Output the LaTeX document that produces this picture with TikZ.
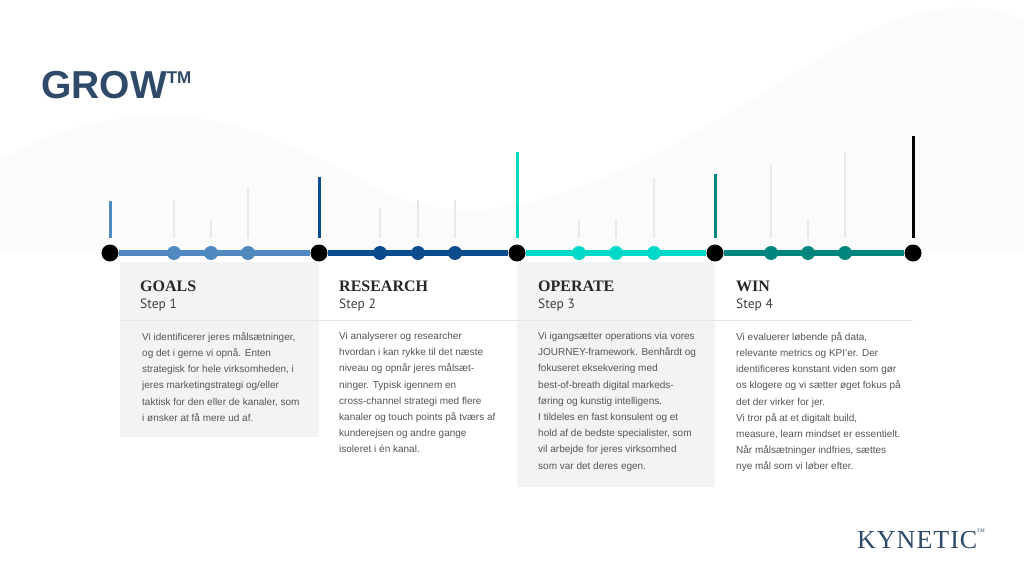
\documentclass[tikz,border=0pt]{standalone}
\usepackage{fontspec}
\setmainfont{Liberation Sans}
\newfontfamily\hfont{Liberation Serif}
\newfontfamily\sfont{PT Sans}
\definecolor{cA}{HTML}{5088C0}
\definecolor{cB}{HTML}{0D4C8C}
\definecolor{cC}{HTML}{00D8C8}
\definecolor{cD}{HTML}{00857F}
\definecolor{navy}{HTML}{2E4A68}
\definecolor{tick}{HTML}{E8E8EC}
\definecolor{boxg}{HTML}{F3F3F3}
\definecolor{txt}{HTML}{555555}
\begin{document}
\begin{tikzpicture}[x=1pt,y=-1pt,
  bigdot/.style={circle,fill=black,minimum size=17pt,inner sep=0pt},
  smalldot/.style={circle,minimum size=14pt,inner sep=0pt},
  seg/.style={line width=5.5pt},
  lt/.style={tick,line width=2.2pt},
  head/.style={anchor=base west,inner sep=0pt,font=\hfont\bfseries\fontsize{16}{18}\selectfont,text=black!85},
  stp/.style={anchor=base west,inner sep=0pt,font=\sfont\fontsize{13.5}{15}\selectfont,text=black!75},
  body/.style={anchor=north west,inner sep=0pt,align=left,text=txt,font=\fontsize{10}{16.2}\selectfont}]
\useasboundingbox[fill=white] (0,0) rectangle (1024,577);
% background waves
\fill[black!1.5] (0,160) .. controls (150,80) and (250,120) .. (380,190) .. controls (520,260) and (700,130) .. (850,40) .. controls (950,-10) and (1000,10) .. (1024,20) -- (1024,250) -- (0,250) -- cycle;
% boxes
\fill[boxg] (120,262) rectangle (319,437);
\fill[boxg] (517,262) rectangle (715,487);
\draw[black!10,line width=0.6pt] (120,320) -- (913,320);
% title
\node[anchor=base west,inner sep=0pt,text=navy,font=\bfseries\fontsize{39}{40}\selectfont] (title) at (41,99) {GROW\raisebox{0.75ex}{\fontsize{17}{17}\selectfont TM}};
\node[anchor=base west,inner sep=0pt,text=navy,font=\hfont\fontsize{26}{28}\selectfont] (logo) at (857,548) {K\kern1pt Y\kern1pt N\kern1pt E\kern1pt T\kern1pt I\kern1pt C\raisebox{1.3ex}{\fontsize{5}{5}\selectfont TM}};
% light ticks
\foreach \x/\t in {174/200,211/220,248/188,380/208,418/200,455/200,579/220,616/220,654/178,771/165,808/220,845/152}
  \draw[lt] (\x,238) -- (\x,\t);
% big ticks
\draw[cA,line width=3pt] (110,238) -- (110,201);
\draw[cB,line width=3pt] (319,238) -- (319,177);
\draw[cC,line width=3pt] (517,238) -- (517,152);
\draw[cD,line width=3pt] (715,238) -- (715,174);
\draw[black,line width=3pt] (913,238) -- (913,136);
% big nodes
\node[bigdot] (n1) at (110,253) {};
\node[bigdot] (n2) at (319,253) {};
\node[bigdot] (n3) at (517,253) {};
\node[bigdot] (n4) at (715,253) {};
\node[bigdot] (n5) at (913,253) {};
\draw[seg,cA] (n1) -- (n2);
\draw[seg,cB] (n2) -- (n3);
\draw[seg,cC] (n3) -- (n4);
\draw[seg,cD] (n4) -- (n5);
\foreach \x/\c in {174/cA,211/cA,248/cA,380/cB,418/cB,455/cB,579/cC,616/cC,654/cC,771/cD,808/cD,845/cD}
  \node[smalldot,fill=\c] at (\x,253) {};
% headings
\node[head] (h1) at (140,291) {GOALS};
\node[stp] (s1) at (140,308) {Step 1};
\node[head] (h2) at (339,291) {RESEARCH};
\node[stp] (s2) at (339,308) {Step 2};
\node[head] (h3) at (538,291) {OPERATE};
\node[stp] (s3) at (538,308) {Step 3};
\node[head] (h4) at (736,291) {WIN};
\node[stp] (s4) at (736,308) {Step 4};
% bodies
\node[body] (b1) at (142,332) {Vi identificerer jeres målsætninger,\\og det i gerne vi opnå. Enten\\strategisk for hele virksomheden, i\\jeres marketingstrategi og/eller\\taktisk for den eller de kanaler, som\\i ønsker at få mere ud af.};
\node[body] (b2) at (339,332) {Vi analyserer og researcher\\hvordan i kan rykke til det næste\\niveau og opnår jeres målsæt-\\ninger. Typisk igennem en\\cross-channel strategi med flere\\kanaler og touch points på tværs af\\kunderejsen og andre gange\\isoleret i én kanal.};
\node[body] (b3) at (538,332) {Vi igangsætter operations via vores\\JOURNEY-framework. Benhårdt og\\fokuseret eksekvering med\\best-of-breath digital markeds-\\føring og kunstig intelligens.\\I tildeles en fast konsulent og et\\hold af de bedste specialister, som\\vil arbejde for jeres virksomhed\\som var det deres egen.};
\node[body] (b4) at (736,332) {Vi evaluerer løbende på data,\\relevante metrics og KPI’er. Der\\identificeres konstant viden som gør\\os klogere og vi sætter øget fokus på\\det der virker for jer.\\Vi tror på at et digitalt build,\\measure, learn mindset er essentielt.\\Når målsætninger indfries, sættes\\nye mål som vi løber efter.};
\end{tikzpicture}
\end{document}
